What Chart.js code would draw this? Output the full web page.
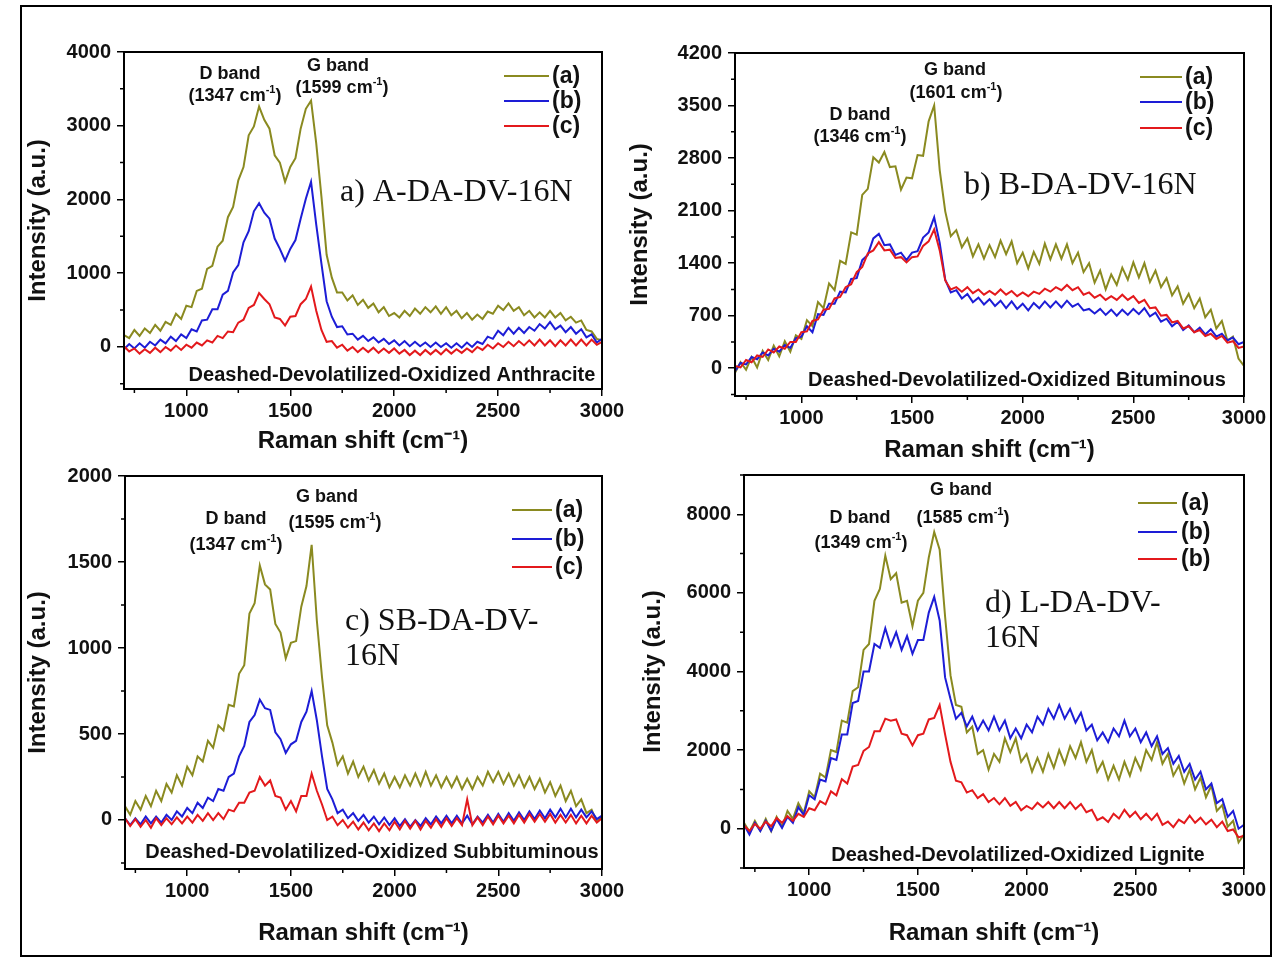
<!DOCTYPE html>
<html>
<head>
<meta charset="utf-8">
<script src="https://cdn.jsdelivr.net/npm/chart.js@4.4.1/dist/chart.umd.min.js"></script>
<style>
  body { margin: 0; background: #fff; }
  #page { position: relative; width: 1281px; height: 966px; overflow: hidden; background: #fff; }
  #frame { position: absolute; left: 20px; top: 5px; width: 1248px; height: 948px; border: 2px solid #000; }
  canvas { position: absolute; left: 0; top: 0; }
</style>
</head>
<body>
<div id="page">
  <div id="frame"></div>
  <canvas id="panelA" width="1281" height="966"></canvas>
  <canvas id="panelB" width="1281" height="966"></canvas>
  <canvas id="panelC" width="1281" height="966"></canvas>
  <canvas id="panelD" width="1281" height="966"></canvas>
</div>
<script>
/* Raman shift sampling (cm-1), shared by all four spectra sets */
const shifts = [700,725,750,775,800,825,850,875,900,925,950,975,1000,1025,1050,1075,1100,1125,1150,1175,1200,1225,1250,1275,1300,1325,1350,1375,1400,1425,1450,1475,1500,1525,1550,1575,1600,1625,1650,1675,1700,1725,1750,1775,1800,1825,1850,1875,1900,1925,1950,1975,2000,2025,2050,2075,2100,2125,2150,2175,2200,2225,2250,2275,2300,2325,2350,2375,2400,2425,2450,2475,2500,2525,2550,2575,2600,2625,2650,2675,2700,2725,2750,2775,2800,2825,2850,2875,2900,2925,2950,2975,3000];
const shiftTicks = [1000, 1500, 2000, 2500, 3000];
const shiftMinor = [750, 1250, 1750, 2250, 2750];
const bandNames = ["D band", "G band"];

/* a) anthracite */
const anthraciteA = [160,120,230,150,250,190,300,220,340,300,450,380,560,540,760,790,1060,1100,1360,1440,1760,1900,2260,2440,2870,2990,3260,3080,2960,2600,2500,2240,2440,2560,2960,3230,3340,2760,2040,1250,940,740,740,630,700,570,640,530,590,470,540,420,460,400,490,420,520,450,540,470,550,450,540,430,490,390,460,370,440,380,480,450,560,500,590,490,540,430,490,400,470,400,490,400,460,360,410,330,360,230,210,110,90];
const anthraciteB = [-30,40,-20,50,-10,70,20,100,50,140,80,170,120,240,210,360,370,510,510,710,760,1010,1110,1420,1570,1840,1950,1820,1740,1470,1330,1170,1330,1450,1740,2010,2240,1660,1130,620,410,270,280,170,180,100,150,80,130,60,110,40,90,20,80,10,70,10,60,0,60,0,50,-10,50,-10,60,0,70,40,140,110,220,160,260,180,260,190,270,220,310,250,340,240,290,200,270,180,240,130,170,60,110];
const anthraciteC = [10,-60,-20,-90,-30,-80,-10,-70,0,-50,20,-40,30,-10,60,20,90,60,150,120,210,200,330,370,530,570,730,650,580,400,380,290,410,420,580,650,820,490,230,70,80,-10,30,-50,0,-70,-10,-70,-10,-80,-20,-80,-20,-90,-40,-110,-50,-110,-40,-100,-40,-100,-30,-90,-30,-80,-20,-70,0,-40,30,-20,50,0,70,10,80,20,90,20,100,20,90,10,90,20,100,20,100,20,100,30,70];
const anthraciteTicks = [0, 1000, 2000, 3000, 4000];
const anthraciteMinor = [-500, 500, 1500, 2500, 3500];
const anthraciteBands = [1347, 1599];

/* b) bituminous */
const bituminousA = [-60,80,-20,150,10,230,110,300,160,360,220,440,390,640,560,880,800,1130,1040,1430,1390,1810,1780,2310,2390,2810,2740,2880,2680,2690,2380,2540,2530,2840,2830,3290,3500,2640,2090,1760,1840,1610,1730,1490,1650,1460,1640,1480,1700,1520,1690,1400,1540,1330,1550,1390,1660,1450,1650,1460,1650,1400,1540,1280,1400,1140,1300,1050,1250,1110,1340,1180,1410,1210,1400,1150,1300,1080,1200,970,1090,860,990,800,930,680,780,530,630,370,420,130,30];
const bituminousB = [-40,70,50,150,120,210,170,260,220,310,270,400,420,560,480,720,710,860,860,1020,1010,1190,1200,1440,1510,1730,1790,1640,1650,1510,1540,1440,1540,1560,1740,1810,2010,1670,1180,1010,1040,930,990,880,940,850,920,830,900,800,890,790,860,770,870,800,890,810,890,810,900,820,860,770,790,730,790,710,780,700,780,710,790,720,800,690,740,620,660,560,620,510,570,480,540,450,520,420,460,370,410,320,350];
const bituminousC = [30,10,110,80,170,150,250,210,290,260,350,350,480,490,630,650,780,790,930,950,1080,1120,1280,1350,1530,1570,1680,1570,1580,1470,1480,1410,1480,1490,1630,1690,1850,1570,1170,1050,1080,1020,1080,1000,1050,980,1030,980,1050,980,1030,960,1010,960,1020,990,1060,1020,1080,1040,1110,1040,1080,980,1010,940,980,910,960,910,980,910,960,870,910,800,810,700,710,610,630,530,560,480,510,430,460,390,430,340,360,270,290];
const bituminousTicks = [0, 700, 1400, 2100, 2800, 3500, 4200];
const bituminousMinor = [-350, 350, 1050, 1750, 2450, 3150, 3850];
const bituminousBands = [1346, 1601];

/* c) subbituminous */
const subbituminousA = [80,30,110,60,140,80,170,110,210,160,260,200,310,260,370,340,460,420,550,520,670,660,850,900,1200,1260,1480,1370,1340,1140,1090,940,1030,1040,1240,1360,1600,1160,830,550,450,320,370,270,340,250,310,230,290,210,270,190,250,190,260,200,270,200,280,200,260,190,250,190,250,180,240,180,250,200,280,220,280,210,270,200,260,190,250,180,240,160,220,140,200,110,170,80,120,40,60,-10,20];
const subbituminousB = [10,-30,10,-25,20,-20,20,-15,30,0,50,20,70,40,100,70,130,110,180,170,250,270,370,430,570,610,700,650,640,510,470,390,440,460,570,630,750,580,370,180,120,40,60,10,40,-5,30,-15,20,-25,15,-30,10,-35,5,-40,0,-35,10,-25,20,-20,25,-20,25,-20,25,-25,20,-15,30,-15,35,-10,40,-5,45,0,50,5,55,10,60,15,65,15,65,15,60,15,50,5,25];
const subbituminousC = [10,-35,5,-40,0,-45,10,-30,10,-25,15,-20,20,-15,30,-5,40,0,40,5,60,50,100,100,160,170,250,200,230,140,130,60,110,50,140,140,270,170,90,0,20,-30,0,-45,-10,-55,-15,-60,-20,-65,-20,-60,-10,-55,-5,-50,-5,-55,-5,-45,5,-40,10,-35,10,-30,120,-30,15,-30,20,-25,25,-20,25,-20,30,-15,35,-10,35,-10,35,-15,30,-15,30,-20,25,-20,25,-15,10];
const subbituminousTicks = [0, 500, 1000, 1500, 2000];
const subbituminousMinor = [-250, 250, 750, 1250, 1750];
const subbituminousBands = [1347, 1595];

/* d) lignite */
const ligniteA = [150,-80,200,-50,250,-60,300,50,450,250,650,400,950,800,1400,1300,2000,1950,2750,2700,3500,3600,4550,4700,5800,6100,6950,6350,6500,5750,5800,5150,5800,6000,6900,7550,7100,5400,3900,3150,3100,2450,2600,1900,2000,1500,1900,1700,2300,1950,2300,1700,1900,1450,1800,1450,1900,1550,2000,1650,2100,1800,2200,1700,2000,1450,1700,1250,1600,1250,1700,1350,1800,1500,2000,1750,2200,1650,1900,1350,1600,1150,1500,1000,1300,800,1100,450,600,50,200,-350,-150];
const ligniteB = [100,-150,150,-60,200,-50,250,20,300,150,550,350,850,750,1250,1200,1800,1750,2400,2400,3200,3250,4000,4000,4700,4600,5100,4650,5000,4550,4900,4450,4800,4800,5500,5900,5300,3850,3300,2800,2950,2600,2850,2500,2750,2500,2850,2500,2750,2300,2550,2300,2650,2450,2850,2650,3050,2800,3150,2800,3050,2700,2950,2500,2650,2250,2450,2200,2550,2350,2750,2350,2550,2200,2450,2100,2350,1900,2050,1650,1850,1450,1650,1250,1450,1000,1150,650,750,300,450,0,100];
const ligniteC = [80,-60,120,0,180,60,270,150,320,200,380,300,520,470,700,620,950,850,1260,1150,1580,1620,1980,2080,2480,2480,2800,2750,2780,2420,2380,2120,2380,2420,2780,2820,3150,2400,1700,1220,1180,920,980,780,880,680,780,620,780,580,680,470,580,500,660,540,680,520,680,520,680,500,630,420,480,220,290,170,380,260,480,300,430,240,380,220,380,100,180,40,230,140,330,150,280,110,230,40,180,-60,-20,-220,-180];
const ligniteTicks = [0, 2000, 4000, 6000, 8000];
const ligniteMinor = [-1000, 1000, 3000, 5000, 7000, 9000];
const ligniteBands = [1349, 1585];

const SANS = '"Liberation Sans", Arial, Helvetica, sans-serif';
const SERIF = '"Liberation Serif", "Times New Roman", serif';
const INK = "#111";
const LINE_COLORS = ["#8a8a20", "#1d1dd6", "#e3191c"];
const PAGE_W = 1281, PAGE_H = 966;
const TITLE_SIZE = 24;
const TITLE_OFFSET = 4 + TITLE_SIZE * 1.2 / 2;

const panels = [
  {
    id: "panelA", series: [anthraciteA, anthraciteB, anthraciteC], names: ["(a)", "(b)", "(c)"],
    yMin: -570, yMax: 4000, yTicks: anthraciteTicks, yMinor: anthraciteMinor, bands: anthraciteBands,
    area: { left: 124, top: 52, right: 602, bottom: 389 }, yTitleX: 38, xTitleY: 441,
    legend: { x1: 504, x2: 549, tx: 552, rows: [76, 101, 126] },
    bandPos: [[230, 74, 235, 96], [338, 66, 342, 88]],
    sample: { lines: ["a) A-DA-DV-16N"], x: 340, y: 193 },
    caption: { text: "Deashed-Devolatilized-Oxidized Anthracite", x: 392, y: 375 }
  },
  {
    id: "panelB", series: [bituminousA, bituminousB, bituminousC], names: ["(a)", "(b)", "(c)"],
    yMin: -370, yMax: 4200, yTicks: bituminousTicks, yMinor: bituminousMinor, bands: bituminousBands,
    area: { left: 735, top: 53, right: 1244, bottom: 396 }, yTitleX: 640, xTitleY: 450,
    legend: { x1: 1140, x2: 1182, tx: 1185, rows: [77, 102, 128] },
    bandPos: [[860, 115, 860, 137], [955, 70, 956, 93]],
    sample: { lines: ["b) B-DA-DV-16N"], x: 964, y: 186 },
    caption: { text: "Deashed-Devolatilized-Oxidized Bituminous", x: 1017, y: 380 }
  },
  {
    id: "panelC", series: [subbituminousA, subbituminousB, subbituminousC], names: ["(a)", "(b)", "(c)"],
    yMin: -285, yMax: 2000, yTicks: subbituminousTicks, yMinor: subbituminousMinor, bands: subbituminousBands,
    area: { left: 125, top: 476, right: 602, bottom: 869 }, yTitleX: 38, xTitleY: 933,
    legend: { x1: 512, x2: 552, tx: 555, rows: [510, 539, 567] },
    bandPos: [[236, 519, 236, 545], [327, 497, 335, 523]],
    sample: { lines: ["c) SB-DA-DV-", "16N"], x: 345, y: 622 },
    caption: { text: "Deashed-Devolatilized-Oxidized Subbituminous", x: 372, y: 852 }
  },
  {
    id: "panelD", series: [ligniteA, ligniteB, ligniteC], names: ["(a)", "(b)", "(b)"],
    yMin: -1000, yMax: 9000, yTicks: ligniteTicks, yMinor: ligniteMinor, bands: ligniteBands,
    area: { left: 744, top: 475, right: 1244, bottom: 868 }, yTitleX: 653, xTitleY: 933,
    legend: { x1: 1138, x2: 1177, tx: 1181, rows: [503, 532, 559] },
    bandPos: [[860, 518, 861, 543], [961, 490, 963, 518]],
    sample: { lines: ["d) L-DA-DV-", "16N"], x: 985, y: 604 },
    caption: { text: "Deashed-Devolatilized-Oxidized Lignite", x: 1018, y: 855 }
  }
];

/* "(1347 cm-1)" with a raised -1 */
function drawWavenumber(ctx, value, cx, cy) {
  const head = "(" + value + " cm", sup = "-1", tail = ")";
  ctx.font = `bold 18px ${SANS}`;
  const wHead = ctx.measureText(head).width;
  const wTail = ctx.measureText(tail).width;
  ctx.font = `bold 11px ${SANS}`;
  const wSup = ctx.measureText(sup).width;
  let x = cx - (wHead + wSup + wTail) / 2;
  ctx.textAlign = "left";
  ctx.font = `bold 18px ${SANS}`;
  ctx.fillText(head, x, cy);
  x += wHead;
  ctx.font = `bold 11px ${SANS}`;
  ctx.fillText(sup, x, cy - 6);
  x += wSup;
  ctx.font = `bold 18px ${SANS}`;
  ctx.fillText(tail, x, cy);
}

/* frame, minor ticks, legend and text notes for one panel */
function decorations(p) {
  return {
    id: "decor",
    afterDraw(chart) {
      const ctx = chart.ctx;
      const a = chart.chartArea;
      const xs = chart.scales.x, ys = chart.scales.y;
      ctx.save();

      ctx.strokeStyle = "#000";
      ctx.lineWidth = 2;
      ctx.strokeRect(a.left, a.top, a.right - a.left, a.bottom - a.top);

      ctx.lineWidth = 1.5;
      ctx.beginPath();
      shiftMinor.forEach(v => {
        const px = xs.getPixelForValue(v);
        ctx.moveTo(px, a.bottom);
        ctx.lineTo(px, a.bottom + 4);
      });
      p.yMinor.forEach(v => {
        const py = ys.getPixelForValue(v);
        ctx.moveTo(a.left, py);
        ctx.lineTo(a.left - 4, py);
      });
      ctx.stroke();

      // legend
      chart.data.datasets.forEach((ds, i) => {
        const y = p.legend.rows[i];
        ctx.strokeStyle = ds.borderColor;
        ctx.lineWidth = 2.2;
        ctx.beginPath();
        ctx.moveTo(p.legend.x1, y);
        ctx.lineTo(p.legend.x2, y);
        ctx.stroke();
        ctx.fillStyle = INK;
        ctx.font = `bold 23px ${SANS}`;
        ctx.textAlign = "left";
        ctx.textBaseline = "middle";
        ctx.fillText(ds.label, p.legend.tx, y + 1);
      });

      // band labels
      ctx.fillStyle = INK;
      ctx.textBaseline = "middle";
      p.bands.forEach((value, i) => {
        const pos = p.bandPos[i];
        ctx.font = `bold 18px ${SANS}`;
        ctx.textAlign = "center";
        ctx.fillText(bandNames[i], pos[0], pos[1]);
        drawWavenumber(ctx, value, pos[2], pos[3]);
      });

      // sample name
      ctx.font = `32px ${SERIF}`;
      ctx.textAlign = "left";
      p.sample.lines.forEach((line, i) => {
        ctx.fillText(line, p.sample.x, p.sample.y + i * 35);
      });

      // treatment caption
      ctx.font = `bold 20px ${SANS}`;
      ctx.textAlign = "center";
      ctx.fillText(p.caption.text, p.caption.x, p.caption.y);

      ctx.restore();
    }
  };
}

function buildPanel(p) {
  const box = p.area;
  const yWidth = box.left - (p.yTitleX - TITLE_OFFSET);
  const xHeight = p.xTitleY + TITLE_OFFSET - box.bottom;
  const tickFont = { family: SANS, size: 20, weight: "bold" };
  const titleFont = { family: SANS, size: TITLE_SIZE, weight: "bold" };
  const grid = { display: true, drawOnChartArea: false, drawTicks: true, tickLength: 7, color: "#000", lineWidth: 1.5 };

  new Chart(document.getElementById(p.id), {
    type: "line",
    data: {
      datasets: p.series.map((vals, i) => ({
        label: p.names[i],
        data: shifts.map((x, j) => ({ x: x, y: vals[j] })),
        borderColor: LINE_COLORS[i],
        borderWidth: 2,
        pointRadius: 0,
        tension: 0,
        order: 2 - i
      }))
    },
    options: {
      responsive: false,
      animation: false,
      devicePixelRatio: 1,
      layout: {
        padding: {
          left: box.left - yWidth,
          top: box.top,
          right: PAGE_W - box.right,
          bottom: PAGE_H - box.bottom - xHeight
        }
      },
      plugins: { legend: { display: false }, tooltip: { enabled: false } },
      scales: {
        x: {
          type: "linear",
          min: 700,
          max: 3000,
          afterFit: s => { s.height = xHeight; },
          afterBuildTicks: s => { s.ticks = shiftTicks.map(v => ({ value: v })); },
          ticks: { font: tickFont, color: INK, padding: 3, maxRotation: 0, autoSkip: false, callback: v => String(v) },
          grid: grid,
          border: { display: false },
          title: { display: true, text: "Raman shift (cm\u207B\u00B9)", font: titleFont, color: INK, padding: { top: 4, bottom: 4 } }
        },
        y: {
          type: "linear",
          min: p.yMin,
          max: p.yMax,
          afterFit: s => { s.width = yWidth; },
          afterBuildTicks: s => { s.ticks = p.yTicks.map(v => ({ value: v })); },
          ticks: { font: tickFont, color: INK, padding: 6, autoSkip: false, callback: v => String(v) },
          grid: grid,
          border: { display: false },
          title: { display: true, text: "Intensity (a.u.)", font: titleFont, color: INK, padding: { top: 4, bottom: 4 } }
        }
      }
    },
    plugins: [decorations(p)]
  });
}

panels.forEach(buildPanel);
</script>
</body>
</html>
